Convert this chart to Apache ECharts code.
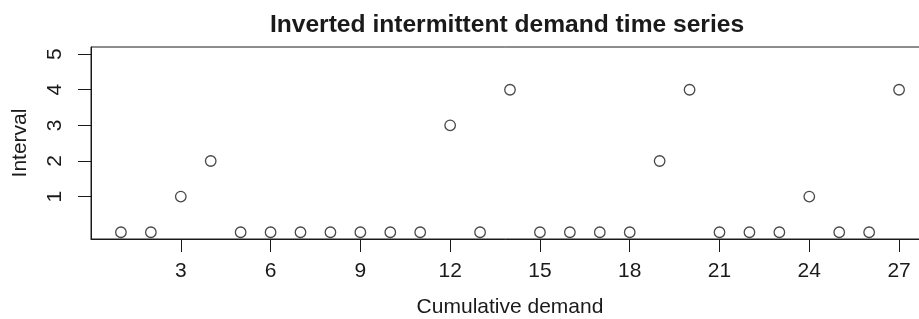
<!DOCTYPE html>
<html>
<head>
<meta charset="utf-8">
<script src="https://cdn.jsdelivr.net/npm/echarts@6/dist/echarts.min.js"></script>
<style>
  html, body { margin: 0; padding: 0; background: #fff; }
  #main { width: 919px; height: 319px; }
</style>
</head>
<body>
<div id="main"></div>
<script>
// data
var cumulativeDemand = [1, 2, 3, 4, 5, 6, 7, 8, 9, 10, 11, 12, 13, 14, 15, 16, 17, 18, 19, 20, 21, 22, 23, 24, 25, 26, 27];
var intervals = [0, 0, 1, 2, 0, 0, 0, 0, 0, 0, 0, 3, 0, 4, 0, 0, 0, 0, 2, 4, 0, 0, 0, 1, 0, 0, 4];
var xTicks = [3, 6, 9, 12, 15, 18, 21, 24, 27];
var yTicks = [1, 2, 3, 4, 5];

var points = cumulativeDemand.map(function (x, i) { return [x, intervals[i]]; });

var chart = echarts.init(document.getElementById('main'));
var ink = '#1a1a1a';
var font = 'Liberation Sans, Arial, sans-serif';

var option = {
    animation: false,
    backgroundColor: '#fff',
    title: {
        text: 'Inverted intermittent demand time series',
        left: 502,
        top: 8,
        textAlign: 'center',
        textStyle: { fontFamily: font, fontSize: 24.6, fontWeight: 'bold', color: ink }
    },
    grid: {
        left: 91, right: -10, top: 47, bottom: 80,
        show: true, borderColor: ink, borderWidth: 1,
        containLabel: false, outerBoundsMode: 'none'
    },
    xAxis: {
        type: 'value',
        min: 0, max: 28,
        name: 'Cumulative demand',
        nameLocation: 'middle',
        nameGap: 58,
        nameTextStyle: { fontFamily: font, fontSize: 21, color: ink },
        splitLine: { show: false },
        axisLine: { show: true, onZero: false, lineStyle: { color: ink, width: 1 } },
        axisTick: { show: true, length: 13, customValues: xTicks, lineStyle: { color: ink } },
        axisLabel: { customValues: xTicks, margin: 22, fontFamily: font, fontSize: 21, color: ink }
    },
    yAxis: {
        type: 'value',
        min: -0.19, max: 5.2,
        name: 'Interval',
        nameLocation: 'middle',
        nameGap: 60,
        nameTextStyle: { fontFamily: font, fontSize: 21, color: ink },
        splitLine: { show: false },
        axisLine: { show: true, onZero: false, lineStyle: { color: ink, width: 1 } },
        axisTick: { show: true, length: 13, customValues: yTicks, lineStyle: { color: ink } },
        axisLabel: { customValues: yTicks, rotate: 90, margin: 25, fontFamily: font, fontSize: 21, color: ink }
    },
    series: [{
        type: 'scatter',
        data: points,
        symbol: 'circle',
        symbolSize: 10.5,
        itemStyle: { color: 'rgba(0,0,0,0)', borderColor: ink, borderWidth: 1.3 },
        emphasis: { disabled: true }
    }]
};

chart.setOption(option);
</script>
</body>
</html>
